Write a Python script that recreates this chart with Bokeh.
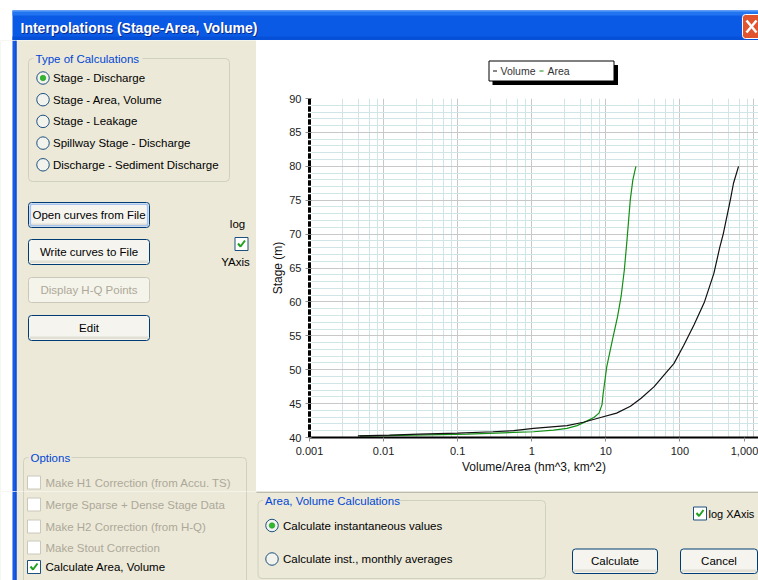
import math
from bokeh.plotting import figure
from bokeh.layouts import column, row
from bokeh.models import Range1d, FixedTicker, CustomJSTickFormatter
from bokeh.core.properties import value
from bokeh.embed import file_html
from bokeh.resources import INLINE

# ---------------- data ----------------
stage_volume = [40.25, 40.35, 40.5, 40.65, 40.85, 41.0, 41.35, 41.75, 42.25, 42.95, 43.6, 44.6,
                45.8, 47.5, 49.2, 50.9, 53.6, 56.6, 60.0, 64.2, 68.0, 70.0, 75.0, 77.5, 80.0]
volume = [0.0045, 0.012, 0.03, 0.1, 0.3, 0.57, 1.06, 3.0, 5.0, 8.5, 14.0, 21.5,
          30.0, 45.0, 61.0, 83.0, 113.0, 155.0, 215.0, 288.0, 345.0, 385.0, 480.0, 530.0, 620.0]
stage_area = [40.2, 40.5, 40.75, 40.85, 41.1, 41.35, 41.75, 42.45, 42.95, 43.6, 44.85, 46.4,
              50.4, 54.4, 57.8, 60.8, 64.7, 69.0, 75.0, 78.0, 80.0]
area = [0.0048, 0.134, 0.57, 1.06, 1.97, 3.0, 4.1, 5.6, 6.9, 8.1, 8.9, 9.2,
        10.3, 12.3, 14.4, 16.1, 17.8, 19.3, 21.4, 23.2, 25.5]
series_names = ["Volume", "Area"]
x_major_ticks = [0.001, 0.01, 0.1, 1, 10, 100, 1000]
x_tick_labels = ["0.001", "0.01", "0.1", "1", "10", "100", "1,000"]
x_minor_factors = [2.8, 4.6, 6.4, 8.2]
y_major_ticks = [40, 45, 50, 55, 60, 65, 70, 75, 80, 85, 90]
y_minor_ticks = [v for v in range(40, 91) if v % 5]
x_minor_ticks = [t * f for t in x_major_ticks for f in x_minor_factors]

window_title = "Interpolations (Stage-Area, Volume)"
calc_types = ["Stage - Discharge", "Stage - Area, Volume", "Stage - Leakage",
              "Spillway Stage - Discharge", "Discharge - Sediment Discharge"]
options = ["Make H1 Correction (from Accu. TS)", "Merge Sparse + Dense Stage Data",
           "Make H2 Correction (from H-Q)", "Make Stout Correction", "Calculate Area, Volume"]
av_calcs = ["Calculate instantaneous values", "Calculate inst., monthly averages"]

# ---------------- styling helpers ----------------
FONT = "Liberation Sans"
UI = "11.5px"
BEIGE = "#ECE9D8"
GROUP_BLUE = "#0046D5"
DISABLED = "#ACA899"


def ui(x0, y0, w, h, bg, border_left=0, border_bg=None):
    f = figure(width=w, height=h, x_range=Range1d(x0 + border_left, x0 + w),
               y_range=Range1d(y0 + h, y0),
               x_axis_type=None, y_axis_type=None, toolbar_location=None, output_backend="svg",
               min_border=0, background_fill_color=bg, border_fill_color=border_bg or bg,
               outline_line_color=None)
    f.min_border_left = border_left
    return f


def txt(p, x, y, s, color="#000000", size=UI, align="left", bold=False):
    p.text(x=[x], y=[y], text=[s], text_font=value(FONT), text_font_size=value(size),
           text_color=color, text_align=align, text_baseline="middle",
           text_font_style="bold" if bold else "normal")


def box(p, l, t, r, b, fill=None, line=None, lw=1, radius=0):
    kw = {"border_radius": radius} if radius else {}
    p.quad(left=[l], right=[r], top=[t], bottom=[b], fill_color=fill,
           line_color=line, line_width=lw, **kw)


def radio(p, x, y, on):
    p.scatter([x], [y], marker="circle", size=12.5, fill_color="#F3F3EE",
              line_color="#1C5180", line_width=1)
    if on:
        p.scatter([x], [y], marker="circle", size=5.5, fill_color="#31B831",
                  line_color="#1E9A1E", line_width=0.6)


def check(p, x, y, on, enabled=True):
    box(p, x - 6.5, y - 6.5, x + 6.5, y + 6.5, fill="white",
        line="#1C5180" if enabled else "#CAC8BB")
    if on:
        p.line([x - 3.5, x - 1, x + 3.5], [y - 0.5, y + 2.5, y - 3.5],
               line_color="#21A121", line_width=2)


def button(p, l, t, r, b, label, enabled=True, focus=False):
    if enabled:
        box(p, l, t, r, b, fill="#F5F4EF", line="#003C74", radius=3)
        box(p, l + 1.5, b - 4, r - 1.5, b - 1.5, fill="#E2DFD5", line=None)
        if focus:
            box(p, l + 1.8, t + 1.8, r - 1.8, b - 1.8, fill=None, line="#A6C2EE", lw=1.6, radius=2)
        color = "#000000"
    else:
        box(p, l, t, r, b, fill="#F5F4EA", line="#CAC8BB", radius=3)
        color = DISABLED
    txt(p, (l + r) / 2, (t + b) / 2, label, color=color, align="center")


def group(p, l, t, r, b, title, title_w, show_title=True):
    box(p, l, t, r, b, fill=None, line="#D0D0BF", radius=4)
    if show_title:
        box(p, l + 5, t - 4, l + 8 + title_w, t + 4, fill=BEIGE, line=None)
        txt(p, l + 7, t, title, color=GROUP_BLUE)


def window_frame(p, y0, y1):
    box(p, 0, y0, 12, y1, fill="white", line=None)
    box(p, 12, y0, 16, y1, fill="#165CE8", line=None)
    box(p, 15, y0, 16, y1, fill="#0A3FC8", line=None)


def options_group(p, y_lo, y_hi):
    # the group box spans two strips: the frame is drawn in both, each text only once
    top_y = 457
    group(p, 23, top_y, 246, 600, "Options", 40, show_title=y_lo < top_y < y_hi)
    for i, name in enumerate(options):
        y = [482, 504, 526, 547, 566.5][i]
        if not (y_lo + 7 <= y <= y_hi - 7):
            continue
        last = i == len(options) - 1
        check(p, 33.5, y, last, enabled=last)
        txt(p, 45, y, name, color="#000000" if last else DISABLED)


# ---------------- title bar ----------------
top = ui(0, 0, 758, 40, "white")
box(top, 12, 10, 770, 40, fill="#0A5AE6", line=None)
box(top, 12, 10, 770, 12, fill="#3F8DF5", line=None)
box(top, 12, 12, 770, 15, fill="#2274F0", line=None)
box(top, 12, 36, 770, 40, fill="#0650D8", line=None)
txt(top, 21, 28, window_title, color="#0A2A8A", size="14px", bold=True)
txt(top, 20, 27, window_title, color="white", size="14px", bold=True)
box(top, 742, 14, 766, 38, fill="#E0552F", line="white", lw=1, radius=3)
top.line([746, 756], [20, 32], line_color="white", line_width=2.5)
top.line([746, 756], [32, 20], line_color="white", line_width=2.5)

# ---------------- left panel (upper part) ----------------
left = ui(0, 40, 256, 451, BEIGE)
window_frame(left, 40, 491)

group(left, 28, 58, 229, 181, "Type of Calculations", 106)
for i, name in enumerate(calc_types):
    y = 77.5 + i * 21.7
    radio(left, 42.5, y, i == 0)
    txt(left, 52.5, y, name)

button(left, 28, 202, 149, 227, "Open curves from File", focus=True)
button(left, 28, 239, 149, 264, "Write curves to File")
button(left, 28, 277, 149, 302, "Display H-Q Points", enabled=False)
button(left, 28, 315, 149, 340, "Edit")

txt(left, 237, 223, "log", align="center")
check(left, 241, 243.5, True)
txt(left, 235, 261.5, "YAxis", align="center")
options_group(left, 40, 491)

# ---------------- legend strip (frame aligned with the chart frame) ----------------
leg = ui(256, 40, 502, 48, "white", border_left=53, border_bg="white")
box(leg, 492, 64.5, 617.5, 84.5, fill="black", line=None)
box(leg, 488.5, 60.5, 613.5, 80.5, fill="white", line="black", lw=1)
leg.line([492.5, 496.5], [70.5, 70.5], line_color="#111111", line_width=1.2)
txt(leg, 500, 70.5, series_names[0], color="#333333", size="10.5px")
leg.line([539, 543], [70.5, 70.5], line_color="#138F13", line_width=1.2)
txt(leg, 547, 70.5, series_names[1], color="#333333", size="10.5px")

# ---------------- chart ----------------
frame_w = 449
px_per_decade = 74.07
x_end = x_major_ticks[0] * 10 ** (frame_w / px_per_decade)
chart = figure(width=502, height=403, x_axis_type="log",
               x_range=Range1d(x_major_ticks[0], x_end), y_range=Range1d(40, 90),
               toolbar_location=None, output_backend="svg",
               min_border_left=53, min_border_right=0, min_border_top=10, min_border_bottom=54,
               background_fill_color="white", border_fill_color="white",
               outline_line_color=None)
chart.line(area, stage_area, line_color="#138F13", line_width=1.2)
chart.line(volume, stage_volume, line_color="#111111", line_width=1.2)

# labels: the last decade label sits on the window edge, so it is placed just inside it
edge_tick = x_end * 10 ** (-14 / px_per_decade)
label_ticks = [t for t in x_major_ticks if t < edge_tick] + [edge_tick]
xax = chart.xaxis[0]
xax.ticker = FixedTicker(ticks=label_ticks, minor_ticks=[])
xax.formatter = CustomJSTickFormatter(args=dict(tv=x_major_ticks, tl=x_tick_labels), code="""
    let best = -1, bd = 1e9;
    for (let i = 0; i < tv.length; i++) {
        const d = Math.abs(Math.log10(tv[i]) - Math.log10(tick));
        if (d < bd) { bd = d; best = i; }
    }
    return bd < 0.3 ? tl[best] : '';
""")
xax.axis_line_color = "black"
xax.axis_line_width = 2
xax.major_tick_line_color = "#8A8A8A"
xax.major_tick_in = 0
xax.major_tick_out = 4
xax.minor_tick_line_color = None
xax.major_label_standoff = 5
xax.axis_label = "Volume/Area (hm^3, km^2)"
xax.axis_label_standoff = 2

chart.xgrid.ticker = FixedTicker(ticks=x_major_ticks, minor_ticks=x_minor_ticks)

yax = chart.yaxis[0]
yax.ticker = FixedTicker(ticks=y_major_ticks, minor_ticks=y_minor_ticks)
yax.axis_line_color = "black"
yax.axis_line_width = 3
yax.major_tick_line_color = "#8A8A8A"
yax.major_tick_in = 2
yax.major_tick_out = 4
yax.minor_tick_line_color = "white"
yax.minor_tick_line_width = 1.5
yax.minor_tick_in = 2
yax.minor_tick_out = 2
yax.major_label_standoff = 4
yax.axis_label = "Stage (m)"
yax.axis_label_standoff = 1

for ax in (xax, yax):
    ax.major_label_text_font = FONT
    ax.major_label_text_font_size = "11px"
    ax.major_label_text_color = "#222222"
    ax.axis_label_text_font = FONT
    ax.axis_label_text_font_size = "12px"
    ax.axis_label_text_font_style = "normal"
    ax.axis_label_text_color = "#111111"

chart.xgrid.grid_line_color = "#C8C8C8"
chart.xgrid.minor_grid_line_color = "#D0E6E6"
chart.ygrid.grid_line_color = "#C8C8C8"
chart.ygrid.minor_grid_line_color = "#D0E6E6"

# ---------------- bottom strip (full width) ----------------
bot = ui(0, 491, 758, 89, BEIGE)
window_frame(bot, 491, 580)
options_group(bot, 491, 580)
box(bot, 256, 491, 758, 492.5, fill="#BDBAAE", line=None)
group(bot, 257.5, 500, 545, 578, "Area, Volume Calculations", 134)
for i, name in enumerate(av_calcs):
    y = [525, 558.5][i]
    radio(bot, 271.5, y, i == 0)
    txt(bot, 282.5, y, name)
check(bot, 699.5, 513, True)
txt(bot, 708, 513, "log XAxis", size="11px")
button(bot, 572, 548.5, 657, 573, "Calculate")
button(bot, 680, 548.5, 757, 573, "Cancel")

layout = column(top, row(left, column(leg, chart)), bot)
open("out.html", "w").write(file_html(layout, INLINE))
